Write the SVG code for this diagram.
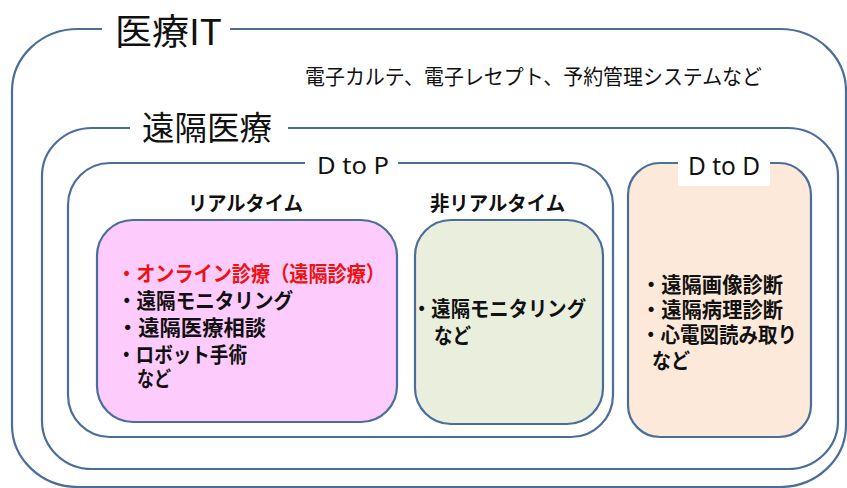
<svg xmlns="http://www.w3.org/2000/svg" width="847" height="488" viewBox="0 0 847 488">
<style>
.box{stroke:#4a6d9c;stroke-width:2.2}
.jp{font-family:"Noto Sans CJK JP","Noto Sans",sans-serif;fill:#111}
.b{font-weight:700}
.lat{font-family:"Noto Sans","Liberation Sans",sans-serif;fill:#111}
.red{fill:#ee1111}
</style>
<rect width="847" height="488" fill="#fff"/>
<g id="iryo-it">
<rect class="box" x="12" y="29" width="834" height="458" rx="66" ry="62" fill="#fff"/>
<rect x="102" y="8" width="128" height="42" fill="#fff"/>
<text class="jp" x="115" y="45" font-size="36" textLength="107" lengthAdjust="spacingAndGlyphs">医療IT</text>
<text class="jp" x="305" y="84" font-size="21" textLength="457" lengthAdjust="spacingAndGlyphs">電子カルテ、電子レセプト、予約管理システムなど</text>
</g>
<g id="enkaku-iryo">
<rect class="box" x="42" y="128" width="796" height="341" rx="50" ry="48" fill="#fff"/>
<rect x="130" y="108" width="158" height="40" fill="#fff"/>
<text class="jp" x="142" y="140" font-size="33" textLength="130" lengthAdjust="spacingAndGlyphs">遠隔医療</text>
</g>
<g id="d-to-p">
<rect class="box" x="68" y="163" width="545" height="274" rx="42" fill="#fff"/>
<rect x="305" y="150" width="93" height="26" fill="#fff"/>
<text class="lat" x="317" y="174" font-size="24" textLength="72" lengthAdjust="spacingAndGlyphs">D to P</text>
<text class="jp b" x="188" y="211" font-size="20" textLength="115" lengthAdjust="spacingAndGlyphs">リアルタイム</text>
<text class="jp b" x="430" y="211" font-size="20" textLength="135" lengthAdjust="spacingAndGlyphs">非リアルタイム</text>
</g>
<g id="realtime">
<rect class="box" x="97" y="220" width="300" height="202" rx="36" fill="#fdccfd"/>
<text class="jp b red" x="117" y="281" font-size="21" textLength="268" lengthAdjust="spacingAndGlyphs">・オンライン診療（遠隔診療）</text>
<text class="jp b" x="117" y="308" font-size="21" textLength="176" lengthAdjust="spacingAndGlyphs">・遠隔モニタリング</text>
<text class="jp b" x="117" y="335" font-size="21" textLength="149" lengthAdjust="spacingAndGlyphs">・遠隔医療相談</text>
<text class="jp b" x="117" y="362" font-size="21" textLength="130" lengthAdjust="spacingAndGlyphs">・ロボット手術</text>
<text class="jp b" x="137" y="386" font-size="21" textLength="34" lengthAdjust="spacingAndGlyphs">など</text>
</g>
<g id="non-realtime">
<rect class="box" x="415" y="220" width="188" height="204" rx="36" fill="#e9eedd"/>
<text class="jp b" x="412" y="316" font-size="21" textLength="174" lengthAdjust="spacingAndGlyphs">・遠隔モニタリング</text>
<text class="jp b" x="434" y="343" font-size="21" textLength="37" lengthAdjust="spacingAndGlyphs">など</text>
</g>
<g id="d-to-d">
<rect class="box" x="628" y="163" width="183" height="274" rx="32" fill="#fde9d9"/>
<rect x="678" y="150" width="92" height="36" fill="#fff"/>
<text class="lat" x="688" y="175" font-size="25" textLength="72" lengthAdjust="spacingAndGlyphs">D to D</text>
<text class="jp b" x="641" y="292" font-size="21" textLength="142" lengthAdjust="spacingAndGlyphs">・遠隔画像診断</text>
<text class="jp b" x="641" y="317" font-size="21" textLength="142" lengthAdjust="spacingAndGlyphs">・遠隔病理診断</text>
<text class="jp b" x="641" y="342" font-size="21" textLength="156" lengthAdjust="spacingAndGlyphs">・心電図読み取り</text>
<text class="jp b" x="652" y="368" font-size="21" textLength="38" lengthAdjust="spacingAndGlyphs">など</text>
</g>
<g id="connectors"></g>
</svg>
